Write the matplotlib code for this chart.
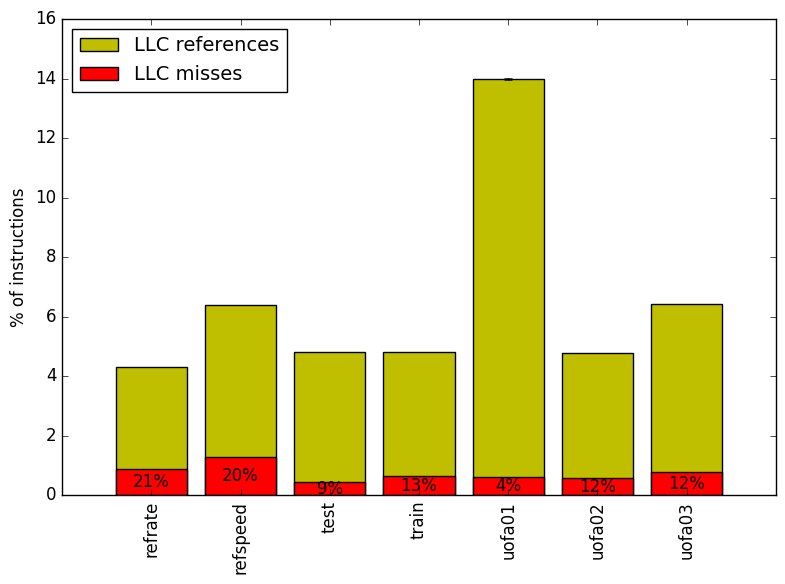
import matplotlib
matplotlib.use("Agg")
import matplotlib.pyplot as plt
import numpy as np

plt.style.use('classic')

benchmarks = ["refrate", "refspeed", "test", "train", "uofa01", "uofa02", "uofa03"]
llc_refs = [4.30, 6.39, 4.81, 4.81, 13.98, 4.77, 6.42]
llc_refs_err = [0.0, 0.0, 0.0, 0.0, 0.03, 0.0, 0.0]
llc_misses = [0.89, 1.28, 0.44, 0.64, 0.60, 0.57, 0.77]
miss_pct = ["21%", "20%", "9%", "13%", "4%", "12%", "12%"]

x = np.arange(len(benchmarks))

fig = plt.figure(figsize=(7.85, 5.84), dpi=100, facecolor='white')
ax = fig.add_axes([0.079, 0.152, 0.9095, 0.8155])

ax.bar(x, llc_refs, 0.8, yerr=llc_refs_err, color='y', ecolor='k',
       align='center', label='LLC references')
ax.bar(x, llc_misses, 0.8, color='r', align='center', label='LLC misses')

for xi, m, p in zip(x, llc_misses, miss_pct):
    ax.text(xi, m / 2, p, ha='center', va='center', fontsize=12)

ax.set_xlim(-1, 7)
ax.set_ylim(0, 16)
ax.set_xticks(x)
ax.set_xticklabels(benchmarks, rotation=90)
ax.set_ylabel('% of instructions')
ax.legend(loc='upper left', fontsize=14)

fig.savefig('out.png', dpi=100, facecolor='white')
